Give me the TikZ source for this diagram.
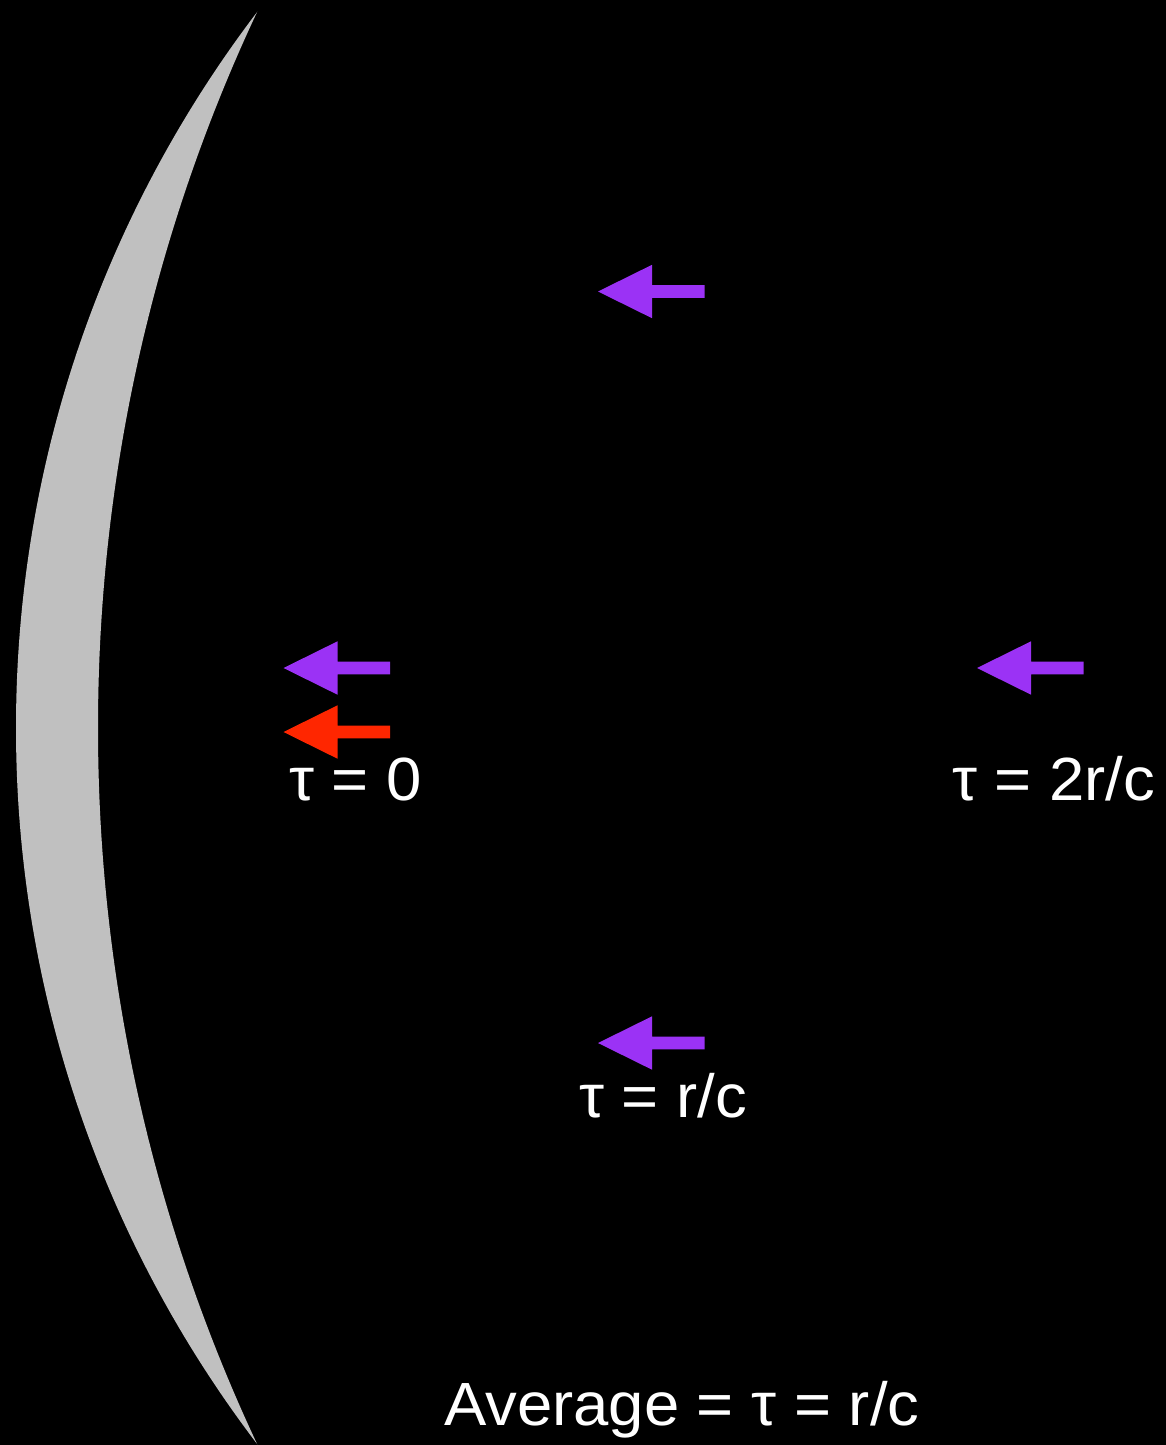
\documentclass[tikz,border=0pt]{standalone}
\usepackage{fontspec}
\setmainfont{Liberation Sans}[FakeStretch=1.04]
\definecolor{arrpurple}{RGB}{155,50,245}
\definecolor{arrred}{RGB}{255,38,0}
\definecolor{moon}{RGB}{192,192,192}
\tikzset{
  bigarrow/.pic={\fill (0,0) -- (54,-26.7) -- (54,-6.35) -- (106.5,-6.35) -- (106.5,6.35) -- (54,6.35) -- (54,26.7) -- cycle;},
  lbl/.style={text=white, anchor=base west, inner sep=0pt, font=\fontsize{61}{72}\selectfont}
}
\begin{document}
\begin{tikzpicture}[x=1pt,y=-1pt]
\fill[black] (0,0) rectangle (1166,1445);
\useasboundingbox (0,0) rectangle (1166,1445);
% crescent
\begin{scope}
  \clip (1199.2,728) circle[radius=1183.2pt];
  \fill[moon, even odd rule] (-10,-10) rectangle (1176,1455) (1784.5,728) circle[radius=1686.5pt];
\end{scope}
% arrows
\pic[arrpurple] (a1) at (598,291.5) {bigarrow};
\pic[arrpurple] (a2) at (283.5,668) {bigarrow};
\pic[arrred] (a3) at (283.5,732) {bigarrow};
\pic[arrpurple] (a4) at (977,668) {bigarrow};
\pic[arrpurple] (a5) at (598,1043) {bigarrow};
% labels
\node[lbl] (t0) at (289,800) {τ = 0};
\node[lbl] (t2) at (952,800) {τ = 2r/c};
\node[lbl] (t1) at (579,1117) {τ = r/c};
\node[lbl] (avg) at (444,1425) {Average = τ = r/c};
\end{tikzpicture}
\end{document}
